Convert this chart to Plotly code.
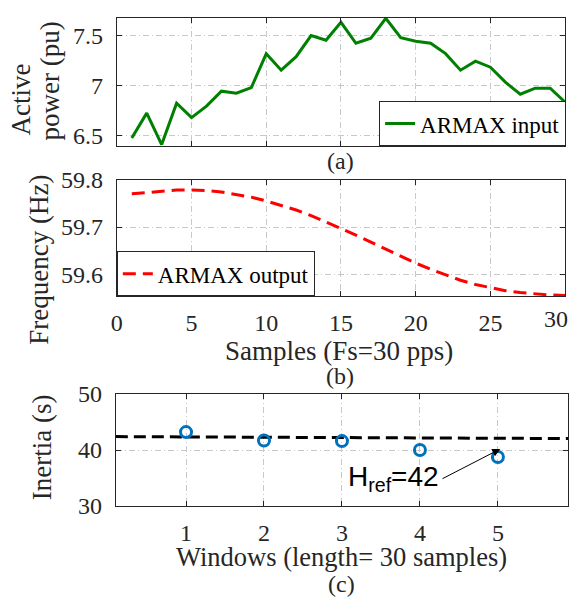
import plotly.graph_objects as go

# ---------------- data ----------------
samples = list(range(1, 31))
active_power = [6.47, 6.72, 6.405, 6.82, 6.675, 6.79, 6.94, 6.92, 6.975, 7.316,
                7.15, 7.285, 7.497, 7.45, 7.63, 7.42, 7.47, 7.67, 7.475, 7.44,
                7.42, 7.316, 7.15, 7.24, 7.18, 7.03, 6.91, 6.97, 6.97, 6.83]
frequency = [59.770, 59.773, 59.776, 59.778, 59.778, 59.777, 59.774, 59.769, 59.763, 59.755,
             59.746, 59.736, 59.724, 59.711, 59.697, 59.683, 59.668, 59.653, 59.638, 59.624,
             59.611, 59.599, 59.588, 59.579, 59.572, 59.566, 59.562, 59.559, 59.557, 59.556]
windows = [1, 2, 3, 4, 5]
inertia = [43.2, 41.7, 41.6, 40.0, 38.75]
href_x = [0.1, 5.9]
href_y = [42.4, 42.05]
sample_ticks = [0, 5, 10, 15, 20, 25, 30]
sample_ticks_labeled = [0, 5, 10, 15, 20, 25]

W, H = 576, 610
def px(x): return x / W
def py(y): return 1 - y / H

SERIF = 'Liberation Serif'
TXT = '#262626'
TICK = 24
TITLE = 27

fig = go.Figure()
fig.add_trace(go.Scatter(x=samples, y=active_power, mode='lines', name='ARMAX input',
                         line=dict(color='#008000', width=3), xaxis='x', yaxis='y', legend='legend'))
fig.add_trace(go.Scatter(x=samples, y=frequency, mode='lines', name='ARMAX output',
                         line=dict(color='#FF0000', width=3, dash='13px,7px'),
                         xaxis='x2', yaxis='y2', legend='legend2'))
fig.add_trace(go.Scatter(x=href_x, y=href_y, mode='lines', showlegend=False,
                         line=dict(color='black', width=3, dash='12px,6px'), xaxis='x3', yaxis='y3'))
fig.add_trace(go.Scatter(x=windows, y=inertia, mode='markers', showlegend=False,
                         marker=dict(symbol='circle-open', size=11, color='#0072BD', line=dict(width=3)),
                         xaxis='x3', yaxis='y3'))

def ax(**kw):
    d = dict(showgrid=True, gridcolor='#c8c8c8', griddash='6px,3px,1px,3px', gridwidth=1,
             showline=True, linecolor=TXT, linewidth=1, mirror='ticks', ticks='inside',
             ticklen=5, tickcolor=TXT, zeroline=False,
             tickfont=dict(family=SERIF, size=TICK, color=TXT))
    d.update(kw)
    return d

legend_font = dict(family=SERIF, size=23, color='black')
fig.update_layout(
    width=W, height=H, margin=dict(l=0, r=0, t=0, b=0),
    paper_bgcolor='white', plot_bgcolor='white',
    xaxis=ax(domain=[px(112), px(565)], range=[0, 30], tickvals=sample_ticks,
             showticklabels=False, anchor='y'),
    yaxis=ax(domain=[py(139), py(5)], range=[6.39, 7.675], tickvals=[6.5, 7, 7.5],
             ticktext=['6.5', '7', '7.5'], anchor='x', ticklabelstandoff=8),
    xaxis2=ax(domain=[px(112), px(565)], range=[0, 30], tickvals=sample_ticks_labeled,
              anchor='y2', ticklabelstandoff=5),
    yaxis2=ax(domain=[py(296), py(174)], range=[59.554, 59.8], tickvals=[59.6, 59.7, 59.8],
              ticktext=['59.6', '59.7', '59.8'], anchor='x2', ticklabelstandoff=8),
    xaxis3=ax(domain=[px(111), px(568)], range=[0.1, 5.9], tickvals=windows,
              anchor='y3', ticklabelstandoff=5),
    yaxis3=ax(domain=[py(515), py(398)], range=[30, 50], tickvals=[30, 40, 50],
              anchor='x3', ticklabelstandoff=8),
    legend=dict(x=px(566), y=py(139), xanchor='right', yanchor='bottom',
                bordercolor=TXT, borderwidth=1, bgcolor='white', font=legend_font),
    legend2=dict(x=px(112), y=py(296), xanchor='left', yanchor='bottom',
                 bordercolor=TXT, borderwidth=1, bgcolor='white', font=legend_font),
)

def label(text, x, y, angle=0, size=TITLE, family=SERIF, color=TXT):
    fig.add_annotation(text=text, x=px(x), y=py(y), xref='paper', yref='paper',
                       xanchor='center', yanchor='middle', showarrow=False, textangle=angle,
                       font=dict(family=family, size=size, color=color))

label('Active', 15.5, 90, angle=-90)
label('power (pu)', 44, 71, angle=-90)
label('Frequency (Hz)', 33, 258, angle=-90)
label('Inertia (s)', 36, 454, angle=-90)
label('(a)', 338, 155, size=TICK)
label('Samples (Fs=30 pps)', 336, 353)
label('(b)', 338, 379, size=TICK)
label('Windows (length= 30 samples)', 339, 568, size=26.5)
label('(c)', 339, 596, size=TICK)
# last tick label of the sample axis, kept inside the page like the reference
label('30', 556, 320, size=TICK)

# arrow for H_ref
fig.add_annotation(x=5.03, y=40.2, xref='x3', yref='y3', ax=4.27, ay=34.75, axref='x3', ayref='y3',
                   text='', showarrow=True, arrowhead=2, arrowsize=1.6, arrowwidth=1,
                   arrowcolor='black', standoff=0, startstandoff=0)
fig.add_annotation(x=3.66, y=35.0, xref='x3', yref='y3', text='H<sub>ref</sub>=42', showarrow=False,
                   xanchor='center', yanchor='middle',
                   font=dict(family='Liberation Sans', size=28, color='black'))

fig.write_html('out.html')
